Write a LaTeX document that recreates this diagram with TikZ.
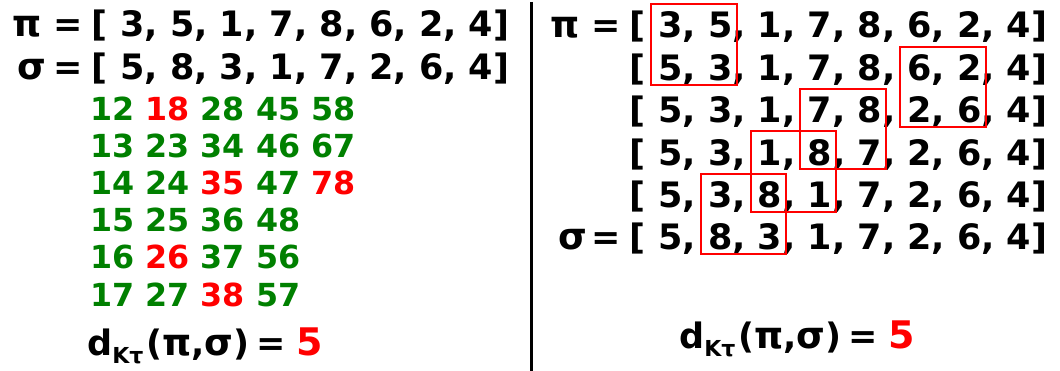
\documentclass[tikz,border=0pt]{standalone}
\usepackage{fontspec}
\setmainfont{DejaVu Sans}
\usetikzlibrary{calc}

\definecolor{pairgreen}{RGB}{0,128,0}
\definecolor{pairred}{RGB}{255,0,0}

\newcommand{\bigpi}{{\fontsize{37}{37}\selectfont π}}
\newcommand{\bigsig}{{\fontsize{37}{37}\selectfont σ}}
\newcommand{\kendall}{d\raisebox{-9pt}{\fontsize{22}{22}\selectfont Kτ}%
  \hspace{3pt}(\bigpi,\bigsig)\hspace{7pt}=\hspace{10pt}{\fontsize{38}{38}\selectfont\textcolor{pairred}{5}}}

\begin{document}
\begin{tikzpicture}[
    x=1pt, y=-1pt,
    num/.style={anchor=base west, inner sep=0pt, text height=25.5pt, text depth=0pt,
                font=\fontsize{35}{35}\selectfont\bfseries},
    pair/.style={anchor=base west, inner sep=0pt, font=\fontsize{31.75}{32}\selectfont\bfseries},
    swapbox/.style={draw=pairred, line width=2pt},
    dist/.style={anchor=base west, inner sep=0pt, font=\fontsize{35}{35}\selectfont\bfseries}
]
\useasboundingbox (0,0) rectangle (1060,371);

% left: the two permutations
\foreach \r/\lst in {1/{3,5,1,7,8,6,2,4}, 2/{5,8,3,1,7,2,6,4}} {
  \foreach \v [count=\c] in \lst
    \node[num] (L\r-\c) at ({120+(\c-1)*49.8}, {37+(\r-1)*43}) {\v};
  \foreach \c in {1,...,7}
    \node[num] at (L\r-\c.base east) {,};
  \node[num, anchor=base east] (L\r-open) at ($(L\r-1.base west)+(-12.2,0)$) {[};
  \node[num] (L\r-close) at (L\r-8.base east) {]};
}
\node[num, anchor=base east] (Lpi)  at ($(L1-open.base west)+(-8,0)$) {\bigpi\hspace{12pt}=};
\node[num, anchor=base east] (Lsig) at ($(L2-open.base west)+(-8,0)$) {\bigsig\hspace{8pt}=};

% pairs, red = discordant
\foreach \r/\lst in {1/{12/pairgreen,18/pairred,28/pairgreen,45/pairgreen,58/pairgreen},
                     2/{13/pairgreen,23/pairgreen,34/pairgreen,46/pairgreen,67/pairgreen},
                     3/{14/pairgreen,24/pairgreen,35/pairred,47/pairgreen,78/pairred},
                     4/{15/pairgreen,25/pairgreen,36/pairgreen,48/pairgreen},
                     5/{16/pairgreen,26/pairred,37/pairgreen,56/pairgreen},
                     6/{17/pairgreen,27/pairgreen,38/pairred,57/pairgreen}}
  \foreach \p/\col [count=\c] in \lst
    \node[pair, text=\col] (P\r-\c) at ({90+(\c-1)*55.3}, {121+(\r-1)*37}) {\p};

\node[dist] (dL) at (87,355) {\kendall};

% divider
\draw[line width=3pt] (531,2) -- (531,371);

% right: adjacent swaps from pi to sigma
\foreach \r/\lst in {1/{3,5,1,7,8,6,2,4}, 2/{5,3,1,7,8,6,2,4}, 3/{5,3,1,7,8,2,6,4},
                     4/{5,3,1,8,7,2,6,4}, 5/{5,3,8,1,7,2,6,4}, 6/{5,8,3,1,7,2,6,4}} {
  \foreach \v [count=\c] in \lst
    \node[num] (R\r-\c) at ({658+(\c-1)*49.8}, {38+(\r-1)*42.4}) {\v};
  \foreach \c in {1,...,7}
    \node[num] at (R\r-\c.base east) {,};
  \node[num, anchor=base east] (R\r-open) at ($(R\r-1.base west)+(-12.2,0)$) {[};
  \node[num] (R\r-close) at (R\r-8.base east) {]};
}
\node[num, anchor=base east] (Rpi)  at ($(R1-open.base west)+(-8,0)$) {\bigpi\hspace{12pt}=};
\node[num, anchor=base east] (Rsig) at ($(R6-open.base west)+(-8,0)$) {\bigsig\hspace{5pt}=};

\foreach \r/\c [evaluate=\r as \rr using int(\r+1), evaluate=\c as \cc using int(\c+1)]
    in {1/1, 2/6, 3/4, 4/3, 5/2}
  \draw[swapbox] ($(R\r-\c.north west)+(-7,-8)$) rectangle ($(R\rr-\cc.south east)+(4,4)$);

\node[dist] (dR) at (679,348) {\kendall};
\end{tikzpicture}
\end{document}
